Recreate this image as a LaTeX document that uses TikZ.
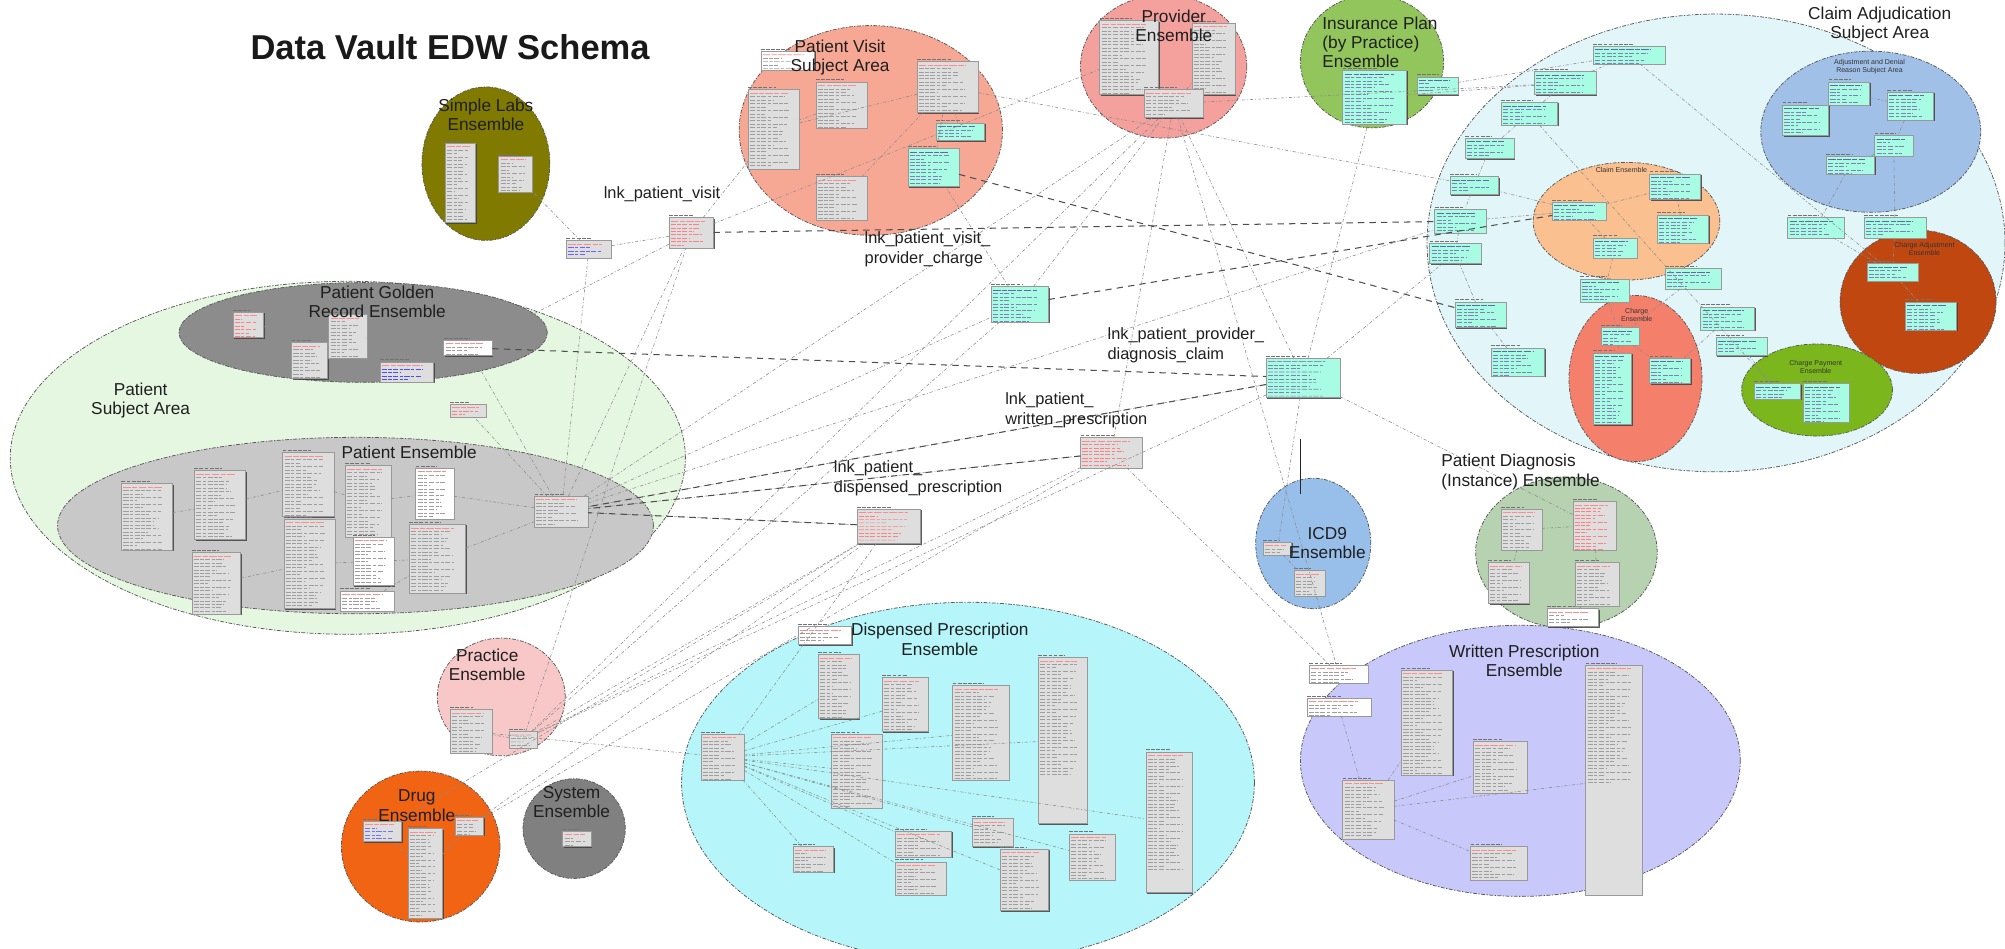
\documentclass[tikz,border=0pt]{standalone}
\usepackage{fontspec}
\setmainfont{Liberation Sans}
\usetikzlibrary{calc,shadows,shapes.geometric}

\definecolor{cOlive}{RGB}{128,122,0}
\definecolor{cPatSA}{RGB}{230,247,225}
\definecolor{cGold}{RGB}{140,140,140}
\definecolor{cPatEns}{RGB}{200,200,200}
\definecolor{cVisit}{RGB}{246,168,148}
\definecolor{cProv}{RGB}{244,160,156}
\definecolor{cIns}{RGB}{146,198,92}
\definecolor{cClaimSA}{RGB}{226,246,250}
\definecolor{cAdjDen}{RGB}{160,192,232}
\definecolor{cClaimEns}{RGB}{250,192,144}
\definecolor{cCharge}{RGB}{244,128,108}
\definecolor{cChAdj}{RGB}{192,72,16}
\definecolor{cChPay}{RGB}{122,182,28}
\definecolor{cDiag}{RGB}{182,210,176}
\definecolor{cICD}{RGB}{152,190,234}
\definecolor{cWP}{RGB}{200,200,250}
\definecolor{cDP}{RGB}{182,246,250}
\definecolor{cPract}{RGB}{248,200,200}
\definecolor{cDrug}{RGB}{240,100,20}
\definecolor{cSys}{RGB}{128,128,128}
\definecolor{tGrey}{RGB}{222,222,222}
\definecolor{tCyan}{RGB}{168,252,228}

\newcommand\tcol{black!38}
\newcommand\pkcol{red!45}
\newcommand\tseed{0}

% a table: #2 name, #3/#4 top-left corner, #5 width, #6 height
\newcommand{\tbl}[6][]{%
  \renewcommand\tseed{#3}%
  \node[tbl,#1,minimum width=#5pt,minimum height=#6pt] (#2) at (#3,#4) {};
  \draw[tblhead] ([yshift=1.6pt]#2.north west) -- ++(#5*0.55,0);
}

\tikzset{
  ens/.style={ellipse, draw=black!65, line width=0.6pt,
    dash pattern=on 3pt off 1.2pt on 1pt off 1.2pt, inner sep=0pt},
  tcolor/.code={\renewcommand\tcol{#1}},
  pkcolor/.code={\renewcommand\pkcol{#1}},
  tbltext/.style={path picture={
    \coordinate (tl) at (path picture bounding box.north west);
    \coordinate (tr) at (path picture bounding box.north east);
    \draw[draw=\pkcol, line width=0.5pt, dash pattern=on 6pt off 1pt on 4pt off 1pt]
      ($(tl)+(1.5pt,-2.8pt)$) -- ($(tl)!0.8!(tr)+(0,-2.8pt)$);
    \foreach \k in {2,...,34}{
      \pgfmathsetmacro\fr{0.3+0.5*abs(sin(\k*83+\tseed*7))}
      \draw[draw=\tcol, line width=0.45pt, dash pattern=on 4pt off 1.2pt on 2.5pt off 1.2pt]
        ($(tl)+(1.5pt,-\k*2.7pt-0.1pt)$) -- ($(tl)!\fr!(tr)+(0,-\k*2.7pt-0.1pt)$);
    }
  }},
  tbl/.style={draw=black!40, line width=0.35pt, fill=tGrey, anchor=north west,
    inner sep=0pt, outer sep=0pt,
    drop shadow={shadow xshift=0.9pt, shadow yshift=-0.9pt, fill=black!75, opacity=0.85},
    tbltext},
  cy/.style={fill=tCyan, tcolor=blue!40!black!50, pkcolor=blue!40!black!60},
  wt/.style={fill=white},
  rd/.style={tcolor=red!50},
  tblhead/.style={draw=black!55, line width=0.6pt, dash pattern=on 3pt off 1pt},
  conn/.style={draw=black!45, line width=0.45pt, dash pattern=on 2.5pt off 1.5pt on 0.6pt off 1.5pt},
  connd/.style={draw=black!70, line width=0.8pt, dash pattern=on 5pt off 4pt},
  lbl/.style={align=center, text=black!88, inner sep=0pt, font=\fontsize{13.5}{15}\selectfont},
  lnk/.style={align=left, text=black!88, inner sep=0pt, anchor=west, font=\fontsize{12.8}{15.5}\selectfont},
  tiny/.style={align=center, text=black!80, inner sep=0pt, font=\fontsize{5.5}{6.2}\selectfont},
}

\begin{document}
\begin{tikzpicture}[x=1pt,y=-1pt]
\useasboundingbox (0,0) rectangle (1568,742);
\fill[white] (0,0) rectangle (1568,742);
\clip (0,0) rectangle (1568,742);

% ---------- subject areas and ensembles ----------
\node[ens, fill=cPatSA, minimum width=528pt, minimum height=276pt] (patsa) at (272,358) {};
\node[ens, fill=cClaimSA, minimum width=452pt, minimum height=358pt] (claimsa) at (1342,190) {};
\node[ens, fill=cGold, minimum width=288pt, minimum height=78pt] (gold) at (284,260) {};
\node[ens, fill=cPatEns, minimum width=466pt, minimum height=138pt] (patens) at (278,411) {};
\node[ens, fill=cOlive, minimum width=100pt, minimum height=120pt] (labs) at (380,128) {};
\node[ens, fill=cVisit, minimum width=206pt, minimum height=164pt] (visit) at (681,102) {};
\node[ens, fill=cProv, minimum width=130pt, minimum height=112pt] (prov) at (910,52) {};
\node[ens, fill=cIns, minimum width=112pt, minimum height=104pt] (ins) at (1073,48) {};
\node[ens, fill=cAdjDen, minimum width=172pt, minimum height=126pt] (adjden) at (1463,103) {};
\node[ens, fill=cClaimEns, minimum width=146pt, minimum height=92pt] (claimens) at (1272,173) {};
\node[ens, fill=cCharge, minimum width=104pt, minimum height=130pt] (charge) at (1279,296) {};
\node[ens, fill=cChAdj, minimum width=122pt, minimum height=112pt] (chadj) at (1500,236) {};
\node[ens, fill=cChPay, minimum width=118pt, minimum height=72pt] (chpay) at (1421,305) {};
\node[ens, fill=cDiag, minimum width=142pt, minimum height=118pt] (diag) at (1225,432) {};
\node[ens, fill=cICD, minimum width=90pt, minimum height=102pt] (icd) at (1027,425) {};
\node[ens, fill=cWP, minimum width=344pt, minimum height=212pt] (wp) at (1189,595) {};
\node[ens, fill=cDP, minimum width=448pt, minimum height=282pt] (dp) at (757,612) {};
\node[ens, fill=cPract, minimum width=100pt, minimum height=92pt] (pract) at (392,545) {};
\node[ens, fill=cDrug, minimum width=124pt, minimum height=118pt] (drug) at (329,662) {};
\node[ens, fill=cSys, minimum width=80pt, minimum height=78pt] (sys) at (449,648) {};

% ---------- tables ----------
% simple labs
\tbl{sla}{348}{112}{24}{62}
\tbl{slb}{390}{122}{26}{28}
\tbl[tcolor=blue!60]{slc}{443}{188}{35}{14}
% link tables
\tbl[rd]{lpv}{523}{170}{35}{24}
\tbl[cy]{lpvpc}{775}{224}{45}{28}
\tbl[cy]{lppdc}{990}{280}{58}{31}
\tbl[rd]{lpwp}{845}{342}{48}{24}
\tbl[rd]{lpdp}{670}{398}{50}{27}
% golden record
\tbl[rd]{gra}{182}{244}{24}{20}
\tbl{grb}{228}{268}{28}{28}
\tbl{grc}{257}{246}{30}{34}
\tbl[tcolor=blue!70]{grd}{297}{283}{42}{16}
\tbl[wt]{gre}{347}{266}{38}{12}
\tbl[rd]{grf}{352}{316}{28}{10}
% patient ensemble
\tbl{pea}{95}{378}{40}{52}
\tbl{peb}{152}{368}{40}{54}
\tbl{pec}{150}{432}{38}{48}
\tbl{ped}{221}{354}{40}{50}
\tbl{pee}{222}{406}{40}{70}
\tbl{pef}{270}{364}{36}{56}
\tbl[wt]{peg}{276}{420}{32}{38}
\tbl[wt]{peh}{266}{462}{42}{16}
\tbl[wt]{pei}{325}{366}{30}{40}
\tbl{pej}{320}{410}{44}{54}
\tbl{pehub}{418}{388}{42}{24}
% patient visit
\tbl[wt]{pva}{595}{40}{42}{15}
\tbl{pvb}{585}{70}{40}{62}
\tbl{pvc}{638}{64}{40}{36}
\tbl{pvd}{717}{48}{48}{40}
\tbl[cy]{pve}{732}{96}{38}{14}
\tbl[cy]{pvf}{710}{116}{40}{30}
\tbl{pvg}{638}{138}{40}{34}
% provider
\tbl{pra}{860}{16}{46}{58}
\tbl{prb}{932}{18}{34}{56}
\tbl{prc}{895}{70}{46}{22}
% insurance plan
\tbl[cy]{ipa}{1050}{55}{50}{42}
\tbl[cy]{ipb}{1108}{60}{32}{14}
% claim adjudication
\tbl[cy]{caa}{1246}{36}{56}{14}
\tbl[cy]{cab}{1200}{56}{48}{18}
\tbl[cy]{cac}{1174}{80}{44}{18}
\tbl[cy]{cad}{1146}{108}{38}{16}
\tbl[cy]{cae}{1134}{138}{38}{14}
\tbl[cy]{caf}{1122}{164}{40}{18}
\tbl[cy]{cag}{1118}{190}{40}{16}
\tbl[cy]{cah}{1138}{236}{40}{20}
\tbl[cy]{cai}{1166}{272}{42}{22}
\tbl[cy]{caj}{1236}{218}{38}{18}
\tbl[cy]{cak}{1302}{210}{44}{16}
\tbl[cy]{cal}{1330}{240}{42}{18}
\tbl[cy]{cam}{1342}{264}{40}{14}
\tbl[cy]{can}{1398}{170}{44}{16}
\tbl[cy]{cao}{1458}{170}{48}{16}
% claim ensemble
\tbl[cy]{cea}{1214}{158}{42}{14}
\tbl[cy]{ceb}{1290}{136}{40}{20}
\tbl[cy]{cec}{1296}{168}{40}{22}
\tbl[cy]{ced}{1246}{186}{34}{16}
% charge ensemble
\tbl[cy]{cha}{1252}{256}{30}{14}
\tbl[cy]{chb}{1246}{276}{30}{56}
\tbl[cy]{chc}{1290}{280}{32}{20}
% charge adjustment / payment
\tbl[cy]{cja}{1460}{206}{40}{14}
\tbl[cy]{cjb}{1490}{236}{40}{22}
\tbl[cy]{cpa}{1372}{300}{36}{12}
\tbl[cy]{cpb}{1410}{300}{36}{30}
% adjustment and denial reason
\tbl[cy]{ada}{1394}{82}{36}{24}
\tbl[cy]{adb}{1430}{64}{32}{18}
\tbl[cy]{adc}{1476}{72}{36}{22}
\tbl[cy]{add}{1466}{106}{30}{16}
\tbl[cy]{ade}{1428}{122}{38}{14}
% patient diagnosis
\tbl{pda}{1174}{398}{32}{32}
\tbl[rd]{pdb}{1230}{392}{34}{38}
\tbl{pdc}{1164}{440}{32}{32}
\tbl{pdd}{1232}{440}{34}{34}
\tbl[wt]{pde}{1210}{476}{40}{14}
% ICD9
\tbl{icda}{988}{424}{22}{10}
\tbl{icdb}{1012}{446}{24}{20}
% written prescription
\tbl[wt]{wpa}{1024}{520}{46}{14}
\tbl[wt]{wpb}{1022}{546}{50}{14}
\tbl{wpc}{1096}{524}{40}{82}
\tbl{wph}{1050}{610}{40}{46}
\tbl{wpd}{1152}{580}{42}{40}
\tbl{wpe}{1150}{662}{44}{26}
\tbl{wpf}{1240}{520}{44}{180}
% dispensed prescription
\tbl[wt]{dpa}{624}{490}{42}{14}
\tbl{dpb}{640}{512}{32}{50}
\tbl{dph}{548}{574}{34}{36}
\tbl{dpc}{690}{530}{36}{42}
\tbl{dpd}{650}{574}{40}{58}
\tbl{dpe}{745}{536}{44}{74}
\tbl{dpf}{812}{514}{38}{130}
\tbl{dpg}{896}{588}{36}{110}
\tbl{dpi}{620}{662}{32}{20}
\tbl{dpj}{700}{650}{44}{20}
\tbl{dpk}{700}{674}{40}{26}
\tbl{dpl}{760}{640}{32}{22}
\tbl{dpm}{782}{664}{38}{48}
\tbl{dpn}{836}{652}{36}{36}
% practice, drug, system
\tbl{pta}{352}{555}{33}{34}
\tbl{ptb}{398}{572}{22}{13}
\tbl[tcolor=blue!55]{dra}{284}{642}{30}{16}
\tbl{drb}{319}{648}{27}{70}
\tbl{drc}{356}{639}{22}{14}
\tbl{sysa}{440}{650}{22}{12}

% ---------- connectors ----------
\foreach \a/\b in {pehub/lpv, pehub/lpvpc, pehub/lppdc, pehub/lpwp, pehub/lpdp,
  pehub/prc, pehub/caf, pehub/pej, pehub/pei, pehub/gre, pehub/grf,
  lpv/pvb, lpv/slc, lpv/pra, lpv/gre, slc/slb, slc/pehub,
  lpvpc/pvf, lpvpc/prc, lpvpc/ptb, lppdc/prc, lppdc/pdb, lppdc/icda,
  lppdc/cag, lppdc/ptb, lppdc/ipa, lpwp/prc, lpwp/wpa, lpwp/ptb,
  lpdp/ptb, lpdp/dph, lpdp/drc, ptb/pta, drb/dra, drb/drc, prc/pra, prc/prb,
  prc/cab, pvd/cae, pvd/pvb, pvc/pvb, pvf/pvd, pve/pvd, pvg/pvd,
  ipa/cab, ipb/caa, caa/cab, cab/cac, cac/cad, cad/cae, cae/caf, caf/cag,
  cag/cah, cah/cai, cea/caf, cea/cae, cea/ceb, ced/cea, cec/ceb, ced/caj,
  caj/cha, cak/cha, cal/chc, cam/cpa, can/ade, cao/add, cao/cja,
  can/cja, cja/cjb, cpa/cpb, cha/chb, cha/chc, ada/adb, adb/adc, adc/add, add/ade,
  caa/cja, cac/cpa, pda/pdb, pda/pdc, pdb/pdd, pdd/pde, icda/icdb,
  wph/wpc, wph/wpd, wph/wpe, wph/wpf, wpb/wph, dph/dpb, dph/dpc, dph/dpd,
  dph/dpe, dph/dpf, dph/dpg, dph/dpi, dph/dpj, dph/dpk, dph/dpl, dph/dpm, dph/dpn,
  pea/peb, peb/ped, pec/pee, ped/pef, pef/pei, pee/peg, peg/pej, peh/pej,
  gra/grc, grb/grc, grc/gre, grd/gre, ptb/lpv, ptb/prc, dra/lpdp, drc/lpwp,
  pta/dph, prc/wpa}
  \draw[conn] (\a) -- (\b);

\foreach \a/\b in {lpv/caf, lpvpc/cea, lppdc/pehub, lpwp/pehub, lpdp/pehub, gre/lppdc, pvf/cah}
  \draw[connd] (\a) -- (\b);

\coordinate (va) at (1017,343);
\coordinate (vb) at (1017,386);
\draw[black!85, line width=0.8pt] (va) -- (vb);

% ---------- labels ----------
\node[inner sep=0pt, text=black!90, font=\fontsize{27}{30}\selectfont\bfseries] (title) at (352,37) {Data Vault EDW Schema};
\node[lbl] (tlabs) at (380,90) {Simple Labs\\Ensemble};
\node[lbl] (tpatsa) at (110,313) {Patient\\Subject Area};
\node[lbl] (tgold) at (295,236) {Patient Golden\\Record Ensemble};
\node[lbl] (tpatens) at (320,354) {Patient Ensemble};
\node[lbl] (tvisit) at (657,45) {Patient Visit\\Subject Area};
\node[lbl] (tprov) at (918,20) {Provider\\Ensemble};
\node[lbl, align=left, anchor=west] (tins) at (1034,33) {Insurance Plan\\(by Practice)\\Ensemble};
\node[lbl] (tclaimsa) at (1470,19) {Claim Adjudication\\Subject Area};
\node[tiny] (tadj) at (1462,52) {Adjustment and Denial\\Reason Subject Area};
\node[tiny] (tclaimens) at (1268,133) {Claim Ensemble};
\node[tiny] (tcharge) at (1280,246) {Charge\\Ensemble};
\node[tiny] (tchadj) at (1505,195) {Charge Adjustment\\Ensemble};
\node[tiny] (tchpay) at (1420,287) {Charge Payment\\Ensemble};
\node[lnk] (tlpv) at (472,152) {lnk\_patient\_visit};
\node[lnk] (tlpvpc) at (676,195) {lnk\_patient\_visit\_\\provider\_charge};
\node[lnk] (tlppdc) at (866,270) {lnk\_patient\_provider\_\\diagnosis\_claim};
\node[lnk] (tlpwp) at (786,321) {lnk\_patient\_\\written\_prescription};
\node[lnk] (tlpdp) at (652,374) {lnk\_patient\_\\dispensed\_prescription};
\node[lnk, font=\fontsize{13.5}{15.5}\selectfont] (tdiag) at (1127,369) {Patient Diagnosis\\(Instance) Ensemble};
\node[lbl] (ticd) at (1038,425) {ICD9\\Ensemble};
\node[lbl] (twp) at (1192,517) {Written Prescription\\Ensemble};
\node[lbl] (tdp) at (735,500) {Dispensed Prescription\\Ensemble};
\node[lbl] (tpract) at (381,520) {Practice\\Ensemble};
\node[lbl] (tdrug) at (326,630) {Drug\\Ensemble};
\node[lbl] (tsys) at (447,627) {System\\Ensemble};
\end{tikzpicture}
\end{document}
